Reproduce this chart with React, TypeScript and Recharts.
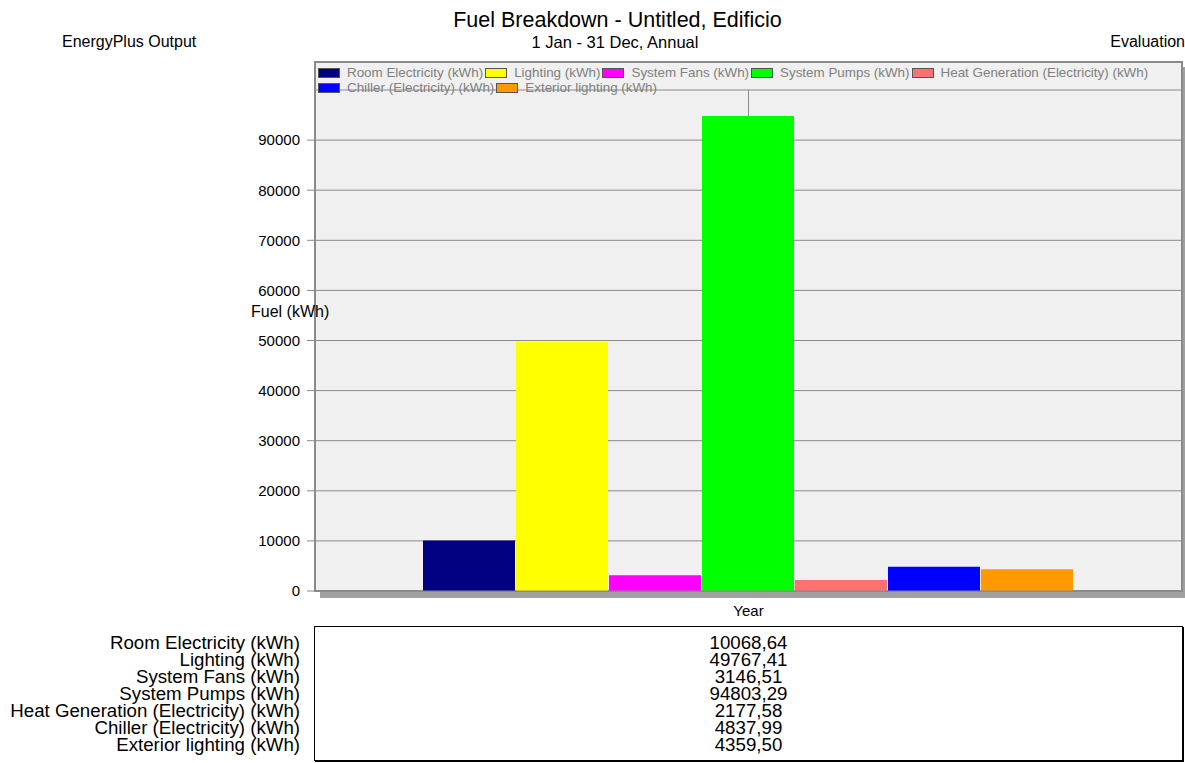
import { BarChart, Bar, XAxis, YAxis, CartesianGrid } from "recharts";

const periodLabel = "Year";
const seriesKeys = ["room", "lighting", "fans", "pumps", "heat", "chiller", "exterior"];
const seriesNames = [
  "Room Electricity (kWh)",
  "Lighting (kWh)",
  "System Fans (kWh)",
  "System Pumps (kWh)",
  "Heat Generation (Electricity) (kWh)",
  "Chiller (Electricity) (kWh)",
  "Exterior lighting (kWh)",
];
const seriesValues = [10068.64, 49767.41, 3146.51, 94803.29, 2177.58, 4837.99, 4359.5];
const seriesColors = ["#000080", "#ffff00", "#ff00ff", "#00ff00", "#ff7070", "#0000ff", "#ff9900"];
const yTicks = [0, 10000, 20000, 30000, 40000, 50000, 60000, 70000, 80000, 90000];

const chartData = [
  {
    period: periodLabel,
    ...Object.fromEntries(seriesKeys.map((k, i) => [k, seriesValues[i]])),
  },
];

const font = "'Liberation Sans', Arial, sans-serif";

function fmt(v: number) {
  return v.toFixed(2).replace(".", ",");
}

export default function App() {
  return (
    <div
      style={{
        position: "absolute",
        left: 0,
        top: 0,
        width: 1185,
        height: 763,
        background: "#fff",
        fontFamily: font,
        color: "#000",
        overflow: "hidden",
      }}
    >
      {/* header */}
      <div style={{ position: "absolute", left: 0, width: 1235, top: 8, textAlign: "center", fontSize: 21.5, lineHeight: "25px" }}>
        Fuel Breakdown - Untitled, Edificio
      </div>
      <div style={{ position: "absolute", left: 0, width: 1230, top: 33, textAlign: "center", fontSize: 16.5, lineHeight: "18px" }}>
        1 Jan - 31 Dec, Annual
      </div>
      <div style={{ position: "absolute", left: 62, top: 33, fontSize: 16, lineHeight: "18px" }}>EnergyPlus Output</div>
      <div style={{ position: "absolute", right: 0, top: 33, fontSize: 16, lineHeight: "18px" }}>Evaluation</div>

      {/* plot frame */}
      <div
        style={{
          position: "absolute",
          left: 314,
          top: 61,
          width: 869,
          height: 531,
          boxSizing: "border-box",
          background: "#eff0ef",
          border: "2px solid #8a8a8a",
          boxShadow: "6px 6px 0 #a0a0a0",
        }}
      />

      <div style={{ position: "absolute", left: 0, top: 0 }}>
        <BarChart
          width={1185}
          height={763}
          data={chartData}
          margin={{ top: 90, right: 3, bottom: 142, left: 0 }}
          barCategoryGap={108}
          barGap={1}
        >
          <CartesianGrid stroke="#8a8a8a" />
          <XAxis
            dataKey="period"
            height={30}
            axisLine={{ stroke: "#8a8a8a" }}
            tickLine={false}
            tickSize={6}
            tickMargin={8}
            tick={{ fill: "#000", fontSize: 15, fontFamily: font }}
          />
          <YAxis
            width={315}
            domain={[0, 100000]}
            ticks={yTicks}
            interval={0}
            axisLine={{ stroke: "#8a8a8a", strokeWidth: 2 }}
            tickLine={{ stroke: "#8a8a8a" }}
            tickSize={8}
            tickMargin={7}
            tick={{ fill: "#000", fontSize: 15, fontFamily: font }}
          />
          {seriesKeys.map((k, i) => (
            <Bar key={k} dataKey={k} name={seriesNames[i]} fill={seriesColors[i]} isAnimationActive={false} />
          ))}
        </BarChart>
      </div>

      {/* legend */}
      <div
        style={{
          position: "absolute",
          left: 318,
          top: 65,
          width: 850,
          display: "flex",
          flexWrap: "wrap",
          fontSize: 13.4,
          lineHeight: "15px",
          color: "#808080",
        }}
      >
        {seriesNames.map((n, i) => (
          <div key={n} style={{ display: "flex", alignItems: "center", marginRight: 2 }}>
            <span
              style={{
                display: "inline-block",
                width: 22,
                height: 10,
                boxSizing: "border-box",
                background: seriesColors[i],
                border: "1px solid #555",
                marginRight: 7,
              }}
            />
            <span>{n}</span>
          </div>
        ))}
      </div>

      <div style={{ position: "absolute", left: 251, top: 303, fontSize: 16, lineHeight: "18px" }}>Fuel (kWh)</div>

      {/* data table */}
      <div style={{ position: "absolute", left: 0, width: 300, top: 634, textAlign: "right", fontSize: 18.7, lineHeight: "17px" }}>
        {seriesNames.map((n) => (
          <div key={n}>{n}</div>
        ))}
      </div>
      <div
        style={{
          position: "absolute",
          left: 314,
          top: 626,
          width: 869,
          height: 135,
          boxSizing: "border-box",
          border: "1px solid #000",
          boxShadow: "1px 1px 0 #000",
        }}
      />
      <div style={{ position: "absolute", left: 315, width: 867, top: 634, textAlign: "center", fontSize: 18.7, lineHeight: "17px" }}>
        {seriesValues.map((v, i) => (
          <div key={seriesKeys[i]}>{fmt(v)}</div>
        ))}
      </div>
    </div>
  );
}
